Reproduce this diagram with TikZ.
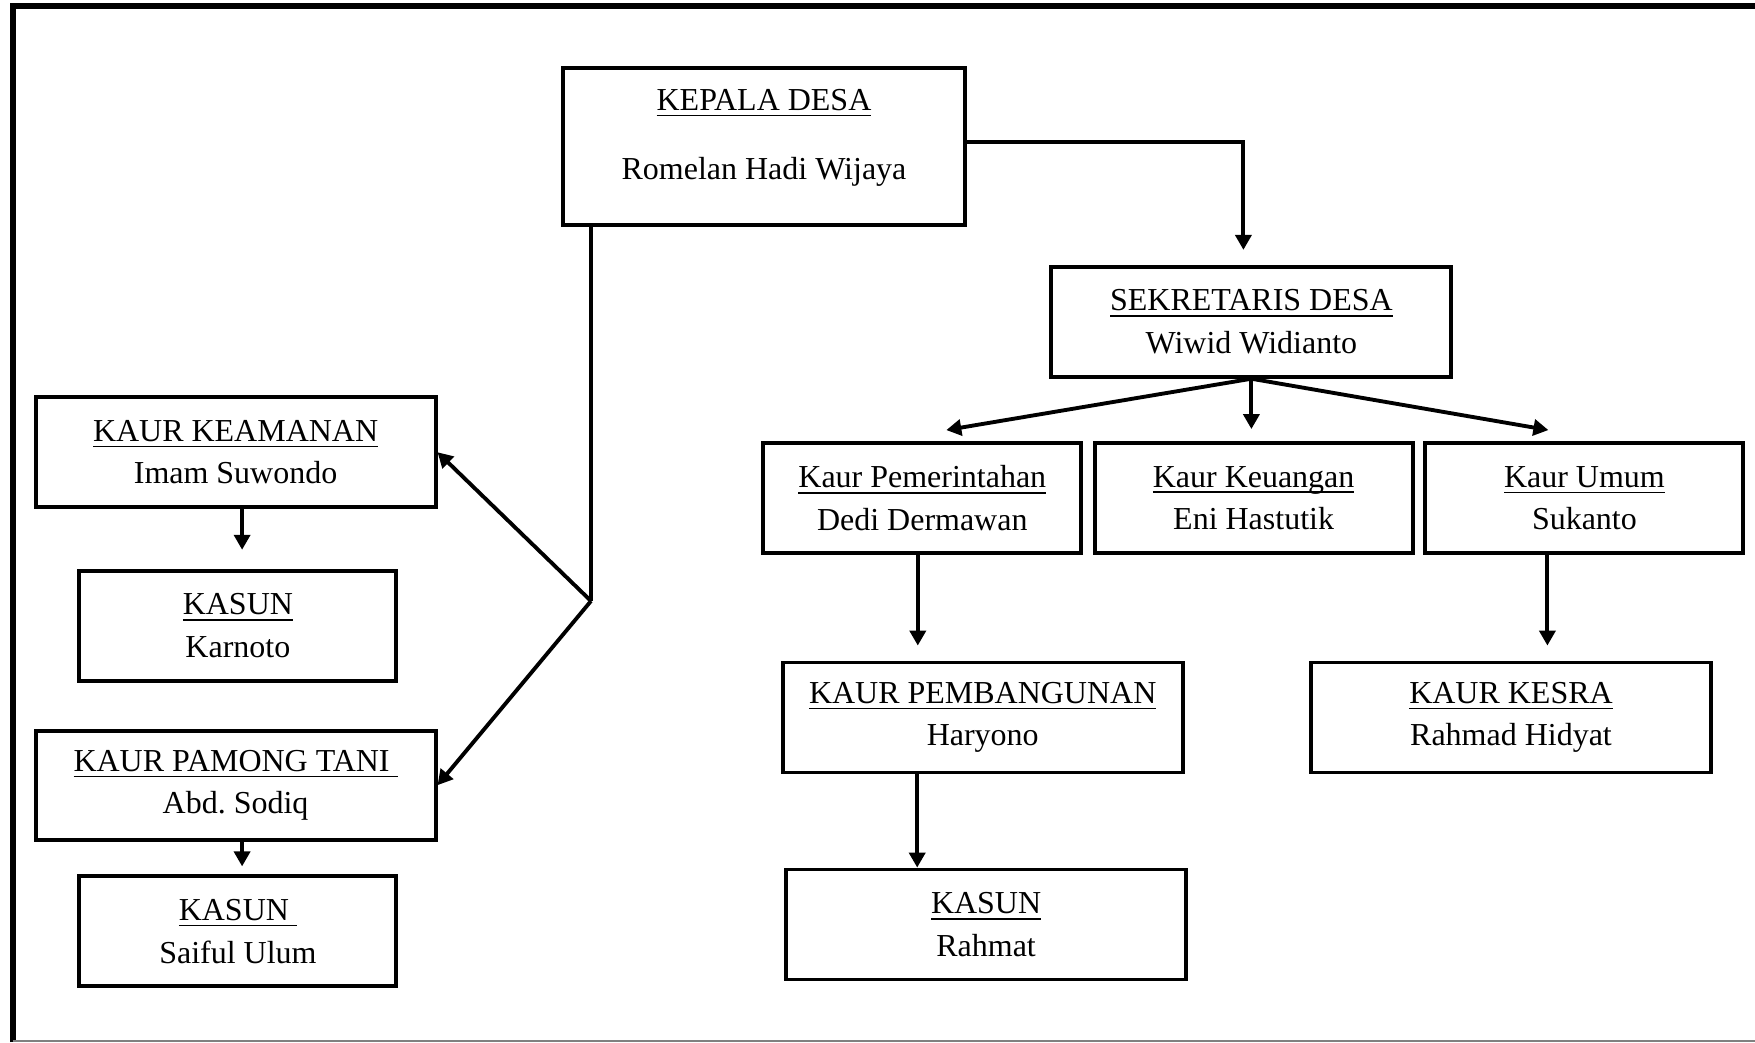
\documentclass[tikz,border=0pt]{standalone}
\usepackage{fontspec}
\setmainfont{Liberation Serif}
\usetikzlibrary{arrows.meta}

\begin{document}
\begin{tikzpicture}[>={Triangle[length=1.5mm,width=1.6mm]},
  jab/.style={rectangle,draw,line width=1.1pt,minimum width=40mm,minimum height=11mm,inner sep=1pt,align=center,font=\fontsize{9.1}{12.1}\selectfont},
  jabk/.style={jab,minimum width=31.8mm},
  ln/.style={line width=1.1pt},
  arr/.style={ln,->}]
\useasboundingbox (0,0) rectangle (17.55,-10.42);
\draw[line width=1.8pt] (0.128,-10.42) -- (0.128,-0.062) -- (17.55,-0.062);
\draw[gray,line width=0.4pt] (0.128,-10.41) -- (17.55,-10.41);
% kepala desa dan sekretaris
\node[jab,minimum width=40.2mm,minimum height=15.7mm,text depth=6.9pt] (kd) at (7.64,-1.465) {\underline{KEPALA DESA}\\[7.5pt]Romelan Hadi Wijaya};
\node[jab] (sek) at (12.514,-3.218) {\underline{SEKRETARIS DESA}\\Wiwid Widianto};
% baris kaur
\node[jabk] (kp) at (9.223,-4.98) {\underline{Kaur Pemerintahan}\\Dedi Dermawan};
\node[jabk] (kk) at (12.536,-4.98) {\underline{\raisebox{0pt}[\height][0pt]{Kaur Keuangan}}\\Eni Hastutik};
\node[jabk] (ku) at (15.844,-4.98) {\underline{Kaur Umum}\\Sukanto};
\node[jab] (kpb) at (9.827,-7.175) {\underline{KAUR PEMBANGUNAN}\\Haryono};
\node[jab] (kes) at (15.11,-7.175) {\underline{KAUR KESRA}\\Rahmad Hidyat};
\node[jab] (ks3) at (9.861,-9.245) {\underline{KASUN}\\Rahmat};
% sisi kiri
\node[jab] (kam) at (2.356,-4.522) {\underline{KAUR KEAMANAN}\\Imam Suwondo};
\node[jabk,minimum width=31.7mm] (ks1) at (2.379,-6.257) {\underline{KASUN}\\Karnoto};
\node[jab,minimum height=10.9mm] (kpt) at (2.356,-7.852) {\underline{KAUR PAMONG TANI\ }\\Abd.\ Sodiq};
\node[jabk,minimum width=31.7mm] (ks2) at (2.379,-9.313) {\underline{KASUN\ }\\Saiful Ulum};
\coordinate (jn) at (5.91,-6.01);

\draw[arr,shorten >=1.5mm] ([yshift=0.45mm]kd.east) -| ([xshift=-0.8mm]sek.north);
\draw[arr] (sek.south) -- ([xshift=2.4mm,yshift=1.1mm]kp.north);
\draw[arr,shorten >=1.2mm] (sek.south) -- (sek.south |- kk.north);
\draw[arr] (sek.south) -- ([xshift=-3.6mm,yshift=1.1mm]ku.north);
\draw[arr,shorten >=1.5mm] ([xshift=-0.45mm]kp.south) -- ([xshift=-0.45mm]kp.south |- kpb.north);
\draw[arr,shorten >=1.5mm] ([xshift=-3.7mm]ku.south) -- ([xshift=-3.7mm]ku.south |- kes.north);
\draw[arr] ([xshift=-6.55mm]kpb.south) -- ([xshift=-6.55mm]kpb.south |- ks3.north);
\draw[ln] (kd.south -| jn) -- (jn);
\draw[arr] (jn) -- (kam.east);
\draw[arr] (jn) -- (kpt.east);
\draw[arr,shorten >=1.9mm] ([xshift=0.65mm]kam.south) -- ([xshift=0.65mm]kam.south |- ks1.north);
\draw[arr,shorten >=0.8mm] ([xshift=0.65mm]kpt.south) -- ([xshift=0.65mm]kpt.south |- ks2.north);
\end{tikzpicture}
\end{document}
